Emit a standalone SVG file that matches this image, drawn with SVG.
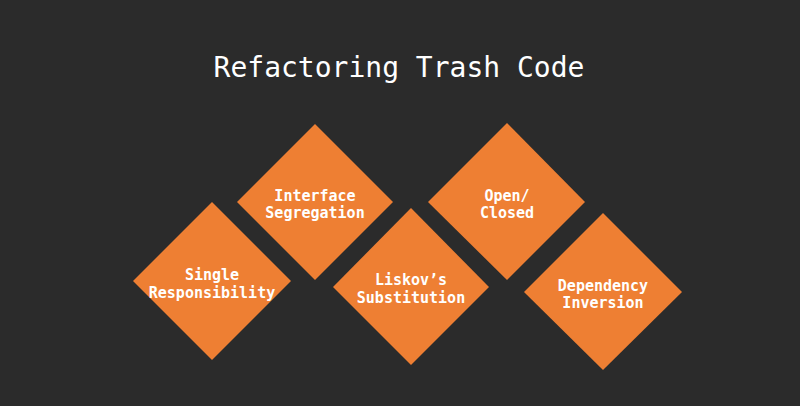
<svg xmlns="http://www.w3.org/2000/svg" width="800" height="406" viewBox="0 0 800 406">
<style>
.bg{fill:#2b2b2b}
.d{fill:#ee7f33}
.t{font-family:"DejaVu Sans Mono","Liberation Mono",monospace;fill:#ffffff;text-anchor:middle}
.title{font-size:28px}
.n{font-size:15px;font-weight:bold}
</style>
<rect class="bg" x="0" y="0" width="800" height="406"/>
<text id="title" class="t title" x="399" y="77">Refactoring Trash Code</text>
<g id="single">
<polygon class="d" points="212,202 291,281 212,360 133,281"/>
<text class="t n" x="212" y="280">Single</text>
<text class="t n" x="212" y="298">Responsibility</text>
</g>
<g id="interface">
<polygon class="d" points="315,124 393,202 315,280 237,202"/>
<text class="t n" x="315" y="201">Interface</text>
<text class="t n" x="315" y="218">Segregation</text>
</g>
<g id="liskov">
<polygon class="d" points="411,208 489,287 411,365 333,287"/>
<text class="t n" x="411" y="285">Liskov’s</text>
<text class="t n" x="411" y="303">Substitution</text>
</g>
<g id="openclosed">
<polygon class="d" points="507,123 585,202 507,280 428,202"/>
<text class="t n" x="507" y="201">Open/</text>
<text class="t n" x="507" y="218">Closed</text>
</g>
<g id="dependency">
<polygon class="d" points="603,213 682,292 603,370 524,292"/>
<text class="t n" x="603" y="291">Dependency</text>
<text class="t n" x="603" y="308">Inversion</text>
</g>
<g id="connectors"></g>
</svg>
